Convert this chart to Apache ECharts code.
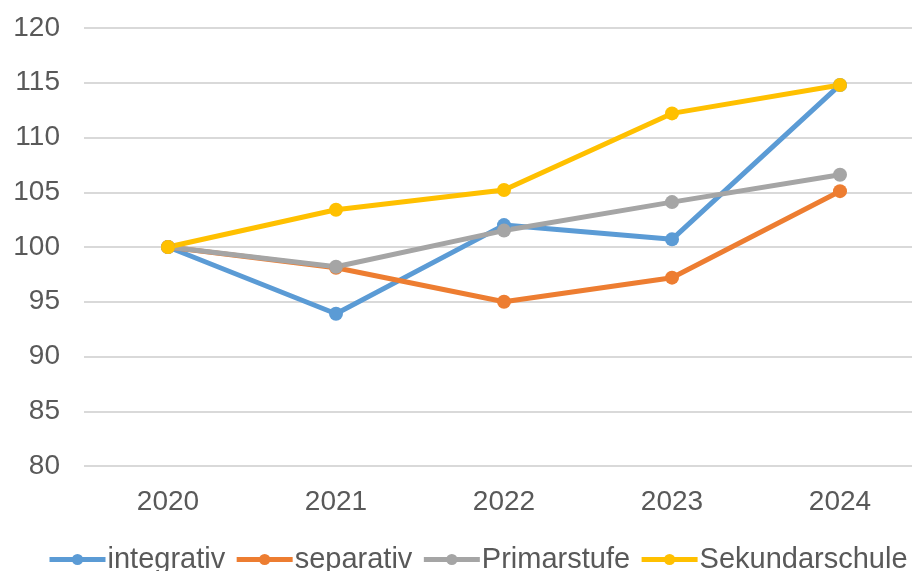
<!DOCTYPE html>
<html>
<head>
<meta charset="utf-8">
<script src="https://cdn.jsdelivr.net/npm/echarts@6/dist/echarts.min.js"></script>
<style>
  html, body { margin: 0; padding: 0; background: #fff; overflow: hidden; }
  #chart { width: 924px; height: 571px; }
</style>
</head>
<body>
<div id="chart"></div>
<script>
const years = ['2020', '2021', '2022', '2023', '2024'];
const integrativ = [100, 93.9, 102.0, 100.7, 114.8];
const separativ = [100, 98.1, 95.0, 97.2, 105.1];
const primarstufe = [100, 98.2, 101.5, 104.1, 106.6];
const sekundarschule = [100, 103.4, 105.2, 112.2, 114.8];

const chart = echarts.init(document.getElementById('chart'));

function line(name, data, color) {
  return {
    name: name,
    type: 'line',
    data: data,
    symbol: 'circle',
    symbolSize: 14,
    lineStyle: { width: 5, color: color },
    itemStyle: { color: color },
    emphasis: { disabled: true }
  };
}

chart.setOption({
  animation: false,
  textStyle: { fontFamily: 'Liberation Sans, Arial, sans-serif' },
  // plot runs past the right edge of the picture, as in the reference
  grid: { left: 84, top: 28, right: 0, height: 438 },
  legend: {
    top: 540,
    left: 42,
    itemWidth: 56,
    itemHeight: 14,
    itemGap: 9,
    lineStyle: { width: 5 },
    textStyle: { fontSize: 29, color: '#595959', padding: [0, 0, 0, -3] },
    data: ['integrativ', 'separativ', 'Primarstufe', 'Sekundarschule']
  },
  xAxis: {
    type: 'category',
    data: years,
    boundaryGap: true,
    axisLine: { show: false },
    axisTick: { show: false },
    axisLabel: { fontSize: 28, color: '#595959', margin: 22 }
  },
  yAxis: {
    type: 'value',
    min: 80,
    max: 120,
    interval: 5,
    axisLine: { show: false },
    axisTick: { show: false },
    axisLabel: { fontSize: 28, color: '#595959', margin: 24 },
    splitLine: { lineStyle: { color: '#d9d9d9', width: 2 } }
  },
  series: [
    line('integrativ', integrativ, '#5b9bd5'),
    line('separativ', separativ, '#ed7d31'),
    line('Primarstufe', primarstufe, '#a5a5a5'),
    line('Sekundarschule', sekundarschule, '#ffc000')
  ]
});
</script>
</body>
</html>
